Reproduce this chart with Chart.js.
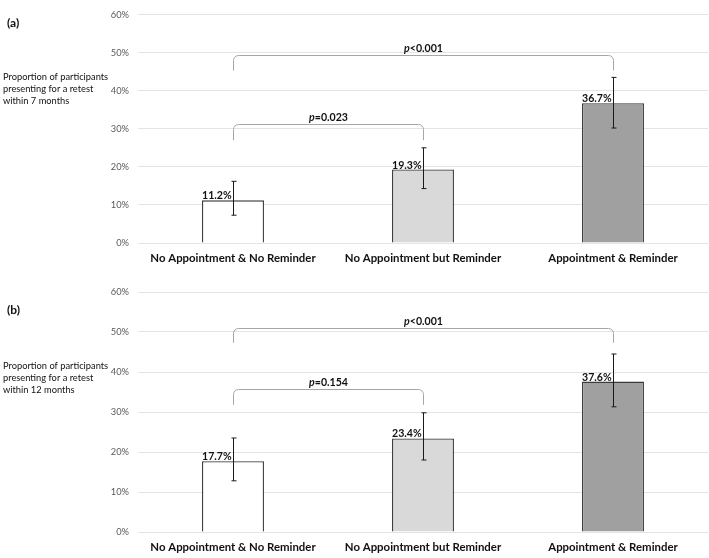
<!DOCTYPE html>
<html>
<head>
<meta charset="utf-8">
<script src="https://cdn.jsdelivr.net/npm/chart.js@4"></script>
<style>
  body { margin: 0; background: #fff; }
  canvas { display: block; }
</style>
</head>
<body>
<canvas id="panelA" width="709" height="270"></canvas>
<canvas id="panelB" width="709" height="288"></canvas>
<script>
// datos del grafico
const categorias = ['No Appointment & No Reminder', 'No Appointment but Reminder', 'Appointment & Reminder'];
const ticksY = [0, 10, 20, 30, 40, 50, 60];

const valores7 = [11.2, 19.3, 36.7];
const bajo7 = [7.3, 14.3, 30.2];
const alto7 = [16.2, 25.0, 43.5];

const valores12 = [17.7, 23.4, 37.6];
const bajo12 = [12.8, 18.0, 31.3];
const alto12 = [23.5, 29.8, 44.5];

// llaves con el valor p: desde, hasta, altura de la llave, hasta donde baja, texto
const llaves7 = [
  { desde: 0, hasta: 1, y: 31.3, baja: 27.0, signo: '=0.023' },
  { desde: 0, hasta: 2, y: 49.5, baja: 45.3, signo: '<0.001' }
];
const llaves12 = [
  { desde: 0, hasta: 1, y: 35.8, baja: 31.8, signo: '=0.154' },
  { desde: 0, hasta: 2, y: 51.0, baja: 47.3, signo: '<0.001' }
];

const colores = ['#ffffff', '#d9d9d9', '#a0a0a0'];
const fuente = "Lato, 'Liberation Sans', sans-serif";

// dibuja barras de error, etiquetas y llaves
const extras = {
  id: 'extras',
  afterDatasetsDraw(chart, args, opts) {
    const ctx = chart.ctx;
    const x = chart.scales.x;
    const y = chart.scales.y;
    const meta = chart.getDatasetMeta(0);
    ctx.save();

    // barras de error
    ctx.strokeStyle = '#1a1a1a';
    ctx.lineWidth = 1;
    meta.data.forEach((bar, i) => {
      const cx = Math.round(bar.x) + 0.5;
      const yt = y.getPixelForValue(opts.alto[i]);
      const yb = y.getPixelForValue(opts.bajo[i]);
      ctx.beginPath();
      ctx.moveTo(cx, yt); ctx.lineTo(cx, yb);
      ctx.moveTo(cx - 2, yt); ctx.lineTo(cx + 3, yt);
      ctx.moveTo(cx - 2, yb); ctx.lineTo(cx + 3, yb);
      ctx.stroke();
    });

    // etiquetas de valor
    ctx.fillStyle = '#111';
    ctx.font = 'bold 10.6px ' + fuente;
    ctx.textAlign = 'left';
    ctx.textBaseline = 'alphabetic';
    meta.data.forEach((bar, i) => {
      ctx.fillText(opts.valores[i].toFixed(1) + '%', bar.x - bar.width / 2, bar.y - 1);
    });

    // llaves
    ctx.strokeStyle = '#a6a6a6';
    ctx.lineWidth = 1;
    opts.llaves.forEach(l => {
      const x1 = x.getPixelForValue(l.desde) + 0.5;
      const x2 = x.getPixelForValue(l.hasta) + 0.5;
      const yl = Math.round(y.getPixelForValue(l.y)) + 0.5;
      const yd = y.getPixelForValue(l.baja);
      const r = 5;
      ctx.beginPath();
      ctx.moveTo(x1, yd);
      ctx.arcTo(x1, yl, x1 + r, yl, r);
      ctx.lineTo(x2 - r, yl);
      ctx.arcTo(x2, yl, x2, yl + r, r);
      ctx.lineTo(x2, yd);
      ctx.stroke();

      // texto p
      const mid = (x1 + x2) / 2;
      ctx.font = 'bold italic 10.6px ' + fuente;
      const wp = ctx.measureText('p').width;
      ctx.font = 'bold 10.6px ' + fuente;
      const wr = ctx.measureText(l.signo).width;
      const x0 = mid - (wp + wr) / 2;
      ctx.fillStyle = '#111';
      ctx.font = 'bold italic 10.6px ' + fuente;
      ctx.fillText('p', x0, yl - 4);
      ctx.font = 'bold 10.6px ' + fuente;
      ctx.fillText(l.signo, x0 + wp, yl - 4);
    });

    // letra del panel y titulo del eje
    ctx.fillStyle = '#111';
    ctx.font = 'bold 12px ' + fuente;
    ctx.fillText(opts.panel, 7, opts.panelY);
    ctx.font = '9.3px ' + fuente;
    opts.titulo.forEach((t, k) => ctx.fillText(t, 3, opts.tituloY + k * 12));
    ctx.restore();
  }
};

const crearGrafico = (id, valores, bajo, alto, llaves, panel, titulo, arriba, altoX, panelY, tituloY) => {
  new Chart(document.getElementById(id), {
    type: 'bar',
    data: {
      labels: categorias,
      datasets: [{
        data: valores,
        backgroundColor: colores,
        borderColor: '#3a3a3a',
        borderWidth: 1.3,
        categoryPercentage: 1,
        barPercentage: 0.326
      }]
    },
    options: {
      responsive: false,
      animation: false,
      layout: { padding: { top: arriba, right: 1, left: 0, bottom: 0 } },
      plugins: {
        legend: { display: false },
        tooltip: { enabled: false },
        extras: { valores, bajo, alto, llaves, panel, titulo, panelY, tituloY }
      },
      scales: {
        x: {
          grid: { display: false },
          border: { display: false },
          ticks: { color: '#111', font: { family: fuente, size: 11.4, weight: 'bold' }, padding: 0, maxRotation: 0 },
          afterFit: s => { s.height = altoX; }
        },
        y: {
          min: 0, max: 60,
          afterBuildTicks: s => { s.ticks = ticksY.map(v => ({ value: v })); },
          grid: { color: '#e4e4e4', drawTicks: false },
          border: { display: false },
          ticks: { color: '#595959', font: { family: fuente, size: 9.3 }, padding: 9, callback: v => v + '%' },
          afterFit: s => { s.width = 138; }
        }
      }
    },
    plugins: [extras]
  });
};

crearGrafico('panelA', valores7, bajo7, alto7, llaves7, '(a)',
  ['Proportion of participants', 'presenting for a retest', 'within 7 months'], 4, 27, 27, 80);
crearGrafico('panelB', valores12, bajo12, alto12, llaves12, '(b)',
  ['Proportion of participants', 'presenting for a retest', 'within 12 months'], 22, 26, 44, 99);
</script>
</body>
</html>
